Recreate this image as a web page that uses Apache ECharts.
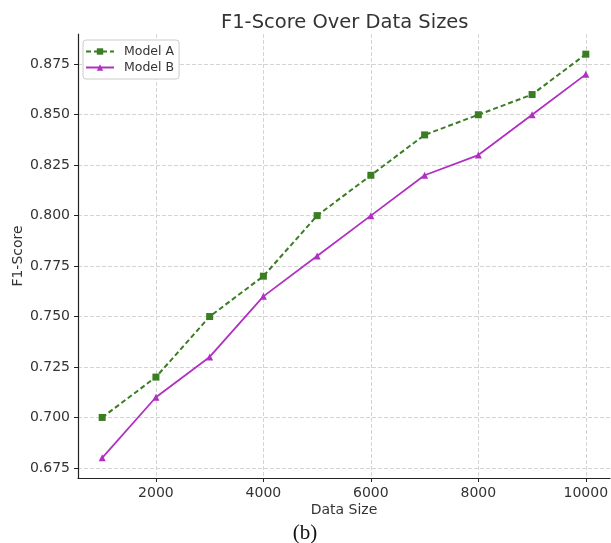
<!DOCTYPE html>
<html><head><meta charset="utf-8">
<script src="https://cdn.jsdelivr.net/npm/echarts@6/dist/echarts.min.js"></script>
<style>html,body{margin:0;padding:0;background:#fff}#c{width:611px;height:543px}</style>
</head><body><div id="c"></div>
<script>
const dataSizes = [1000,2000,3000,4000,5000,6000,7000,8000,9000,10000];
const modelA = [0.70,0.72,0.75,0.77,0.80,0.82,0.84,0.85,0.86,0.88];
const modelB = [0.68,0.71,0.73,0.76,0.78,0.80,0.82,0.83,0.85,0.87];
const xTicks = [2000,4000,6000,8000,10000];
const yTicks = [0.675,0.7,0.725,0.75,0.775,0.8,0.825,0.85,0.875];
const chart = echarts.init(document.getElementById('c'));
const font = 'DejaVu Sans';
chart.setOption({
  animation:false,
  title:[{text:'F1-Score Over Data Sizes',left:216,top:8,textStyle:{fontFamily:font,fontSize:19.5,fontWeight:'normal',color:'#333'}},
         {text:'(b)',left:300,top:518,textAlign:'center',textStyle:{fontFamily:'Liberation Serif',fontSize:21,fontWeight:'normal',color:'#111'}}],
  legend:{left:83,top:40,orient:'vertical',itemGap:3,itemWidth:28,itemHeight:8,padding:[5,5,5,2],
    borderColor:'#ccc',borderWidth:1,borderRadius:3,backgroundColor:'#fff',
    textStyle:{fontFamily:font,fontSize:12.5,color:'#333',padding:[0,0,0,5]},
    data:['Model A','Model B']},
  grid:{left:78,right:1,top:34,bottom:65,containLabel:false,outerBoundsMode:'none'},
  xAxis:{type:'value',min:550,max:10450,
    name:'Data Size',nameLocation:'middle',nameGap:25,nameMoveOverlap:false,nameTextStyle:{fontFamily:font,fontSize:14,color:'#333'},
    axisLine:{lineStyle:{color:'#222',width:1.2}},
    axisLabel:{fontFamily:font,fontSize:14,color:'#333',margin:8,customValues:xTicks,formatter:v=>String(v)},
    axisTick:{show:true,length:4,customValues:xTicks,lineStyle:{color:'#222'}},
    splitLine:{show:true,lineStyle:{color:'#d4d4d4',type:'dashed',width:1}}},
  yAxis:{type:'value',min:0.67,max:0.89,
    name:'F1-Score',nameLocation:'middle',nameGap:53,nameMoveOverlap:false,nameTextStyle:{fontFamily:font,fontSize:14,color:'#333'},
    axisLine:{show:true,lineStyle:{color:'#222',width:1.2}},
    axisTick:{show:true,length:4,customValues:yTicks,lineStyle:{color:'#222'}},
    axisLabel:{fontFamily:font,fontSize:14,color:'#333',margin:8,customValues:yTicks,formatter:v=>v.toFixed(3)},
    splitLine:{show:true,lineStyle:{color:'#d4d4d4',type:'dashed',width:1}}},
  series:[
    {name:'Model A',type:'line',data:dataSizes.map((x,i)=>[x,modelA[i]]),z:3,
     symbol:'rect',symbolSize:7,itemStyle:{color:'#3a7d23'},lineStyle:{color:'#3a7d23',width:2,type:[5,3]}},
    {name:'Model B',type:'line',data:dataSizes.map((x,i)=>[x,modelB[i]]),z:3,
     symbol:'triangle',symbolSize:7,itemStyle:{color:'#b030c0'},lineStyle:{color:'#b030c0',width:1.8}}
  ]
});
</script></body></html>
